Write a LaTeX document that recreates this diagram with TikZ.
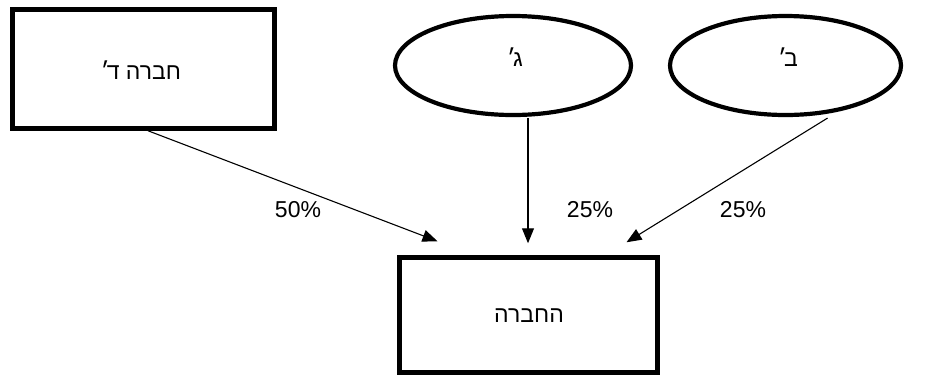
\documentclass[tikz,border=0pt]{standalone}
\usepackage{fontspec}
\setmainfont{Liberation Sans}
\newfontfamily\hebfont[Script=Hebrew]{Liberation Sans}
\TeXXeTstate=1
\usetikzlibrary{shapes.geometric,arrows.meta}
\tikzset{
  boxnode/.style={draw, line width=4.5pt, rectangle, inner sep=0pt},
  ovalnode/.style={draw, line width=4.2pt, ellipse, inner sep=0pt, minimum width=236pt, minimum height=99pt},
  heb/.style={font=\hebfont\fontsize{23}{26}\selectfont},
  pct/.style={font=\fontsize{23}{26}\selectfont, inner sep=0pt},
  arr/.style={line width=1.1pt, -{Triangle[length=15pt,width=12pt]}}
}
\begin{document}
\begin{tikzpicture}[x=1pt,y=-1pt]
\useasboundingbox (0,0) rectangle (936,376);
\fill[white] (0,0) rectangle (936,376);
\node[boxnode, minimum width=262pt, minimum height=119pt] (D) at (143.5,69) {};
\node[heb] (Dt) at (141,70) {\beginR חברה ד\kern-3pt ׳\endR};
\node[ovalnode] (G) at (513,65.5) {};
\node[heb] (Gt) at (515,57) {\beginR ג\kern-3pt ׳\endR};
\node[ovalnode, minimum width=231pt] (B) at (785.5,65.5) {};
\node[heb] (Bt) at (788,57) {\beginR ב\kern-3pt ׳\endR};
\node[boxnode, minimum width=258pt, minimum height=115pt] (H) at (528.5,315) {};
\node[heb] (Ht) at (529,316) {\beginR החברה\endR};
\coordinate (t1) at ([xshift=-91pt,yshift=14pt]H.north);
\coordinate (t2) at ([xshift=-0.5pt,yshift=12pt]H.north);
\coordinate (t3) at ([xshift=98pt,yshift=13pt]H.north);
\coordinate (g0) at ([xshift=15pt,yshift=-1pt]G.south);
\draw[arr] ([xshift=4.5pt]D.south) -- (t1);
\draw[arr] (g0) -- (g0 |- t2);
\draw[arr] ([xshift=42pt,yshift=-1pt]B.south) -- (t3);
\node[pct] (p1) at (298,210) {50\%};
\node[pct] (p2) at (590,210) {25\%};
\node[pct] (p3) at (743,210) {25\%};
\end{tikzpicture}
\end{document}
